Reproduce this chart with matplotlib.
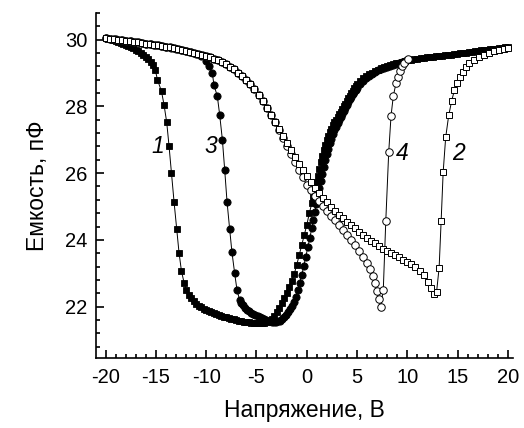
import matplotlib
matplotlib.use("Agg")
import matplotlib.pyplot as plt
from matplotlib.ticker import MultipleLocator

plt.rcParams['font.family'] = ['Liberation Sans', 'DejaVu Sans']
plt.rcParams['axes.unicode_minus'] = False

# curve 1 - filled squares
x1 = [-20, -19.75, -19.5, -19.25, -19, -18.75, -18.5, -18.25, -18, -17.75, -17.5, -17.25,
      -17, -16.75, -16.5, -16.25, -16, -15.75, -15.5, -15.25, -15.05,
      -14.84, -14.44, -14.19, -13.92, -13.69, -13.45, -13.19, -12.93, -12.7, -12.46,
      -12.2, -11.96, -11.75, -11.5, -11.25, -11.0, -10.75, -10.5, -10.25, -10, -9.75,
      -9.5, -9.25, -9, -8.75, -8.5, -8.25, -8, -7.75, -7.5, -7.25, -7, -6.75, -6.5,
      -6.25, -6, -5.75, -5.5, -5.25, -5, -4.75, -4.5, -4.25, -4, -3.75, -3.5, -3.25,
      -3, -2.75, -2.5, -2.25, -2, -1.75, -1.5, -1.25, -1.0, -0.75, -0.5, -0.25, 0,
      0.25, 0.5, 0.65, 0.8, 0.95, 1.1, 1.25, 1.4, 1.55, 1.7, 1.85, 2.0, 2.15, 2.3,
      2.45, 2.6, 2.75, 2.9, 3.05, 3.2, 3.35, 3.5, 3.65, 3.8, 3.95, 4.1, 4.25, 4.4,
      4.55, 4.7, 4.85, 5.0, 5.3, 5.6, 5.9, 6.2, 6.5, 6.8, 7.1, 7.4, 7.7, 8.0, 8.3,
      8.6, 8.9, 9.2, 9.5, 9.8, 10.1, 10.4, 10.7, 11.0, 11.3, 11.6, 11.9, 12.2, 12.5,
      12.8, 13.1, 13.4, 13.7, 14.0, 14.3, 14.6, 14.9, 15.2, 15.5, 15.8, 16.1, 16.4,
      16.7, 17.0, 17.3, 17.6, 17.9, 18.2, 18.5, 18.8, 19.1, 19.4, 19.7, 20.0]
y1 = [30.05, 30.03, 30.01, 29.99, 29.97, 29.94, 29.91, 29.88, 29.85, 29.82, 29.78, 29.74,
      29.7, 29.65, 29.6, 29.55, 29.49, 29.42, 29.34, 29.23, 29.08,
      28.8, 28.45, 28.05, 27.52, 26.81, 26.0, 25.13, 24.33, 23.62, 23.07,
      22.72, 22.5, 22.36, 22.25, 22.16, 22.09, 22.03, 21.98, 21.94, 21.9, 21.87,
      21.84, 21.81, 21.78, 21.75, 21.73, 21.7, 21.68, 21.66, 21.64, 21.62, 21.6, 21.58, 21.57,
      21.55, 21.54, 21.53, 21.52, 21.51, 21.5, 21.5, 21.5, 21.51, 21.53, 21.57, 21.63, 21.72,
      21.83, 21.96, 22.1, 22.26, 22.42, 22.58, 22.76, 22.98, 23.25, 23.55, 23.85, 24.15, 24.45,
      24.8, 25.1, 25.3, 25.5, 25.72, 25.92, 26.12, 26.32, 26.5, 26.68, 26.84, 26.98, 27.1, 27.22,
      27.33, 27.43, 27.52, 27.6, 27.68, 27.76, 27.84, 27.92, 28.0, 28.08, 28.16, 28.24, 28.32, 28.4,
      28.47, 28.54, 28.6, 28.66, 28.76, 28.84, 28.91, 28.96, 29.01, 29.06, 29.1, 29.14, 29.17, 29.2, 29.23,
      29.26, 29.29, 29.31, 29.34, 29.36, 29.38, 29.4, 29.42, 29.43, 29.45, 29.46, 29.47, 29.48, 29.49,
      29.5, 29.51, 29.52, 29.53, 29.54, 29.55, 29.56, 29.58, 29.59, 29.6, 29.61, 29.63, 29.64,
      29.65, 29.66, 29.68, 29.69, 29.7, 29.71, 29.72, 29.73, 29.74, 29.75, 29.77, 29.78]

# curve 3 - filled circles
x3 = [-20, -19.5, -19, -18.5, -18, -17.5, -17, -16.5, -16, -15.5, -15, -14.5, -14,
      -13.5, -13, -12.5, -12, -11.5, -11, -10.5, -10.05, -9.72, -9.39, -9.23, -8.89,
      -8.66, -8.39, -8.16, -7.93, -7.67, -7.44, -7.17, -6.94, -6.68, -6.5, -6.3, -6.1,
      -5.9, -5.7, -5.5, -5.3, -5.1, -4.9, -4.7, -4.5, -4.3, -4.1, -3.9, -3.7, -3.5,
      -3.3, -3.1, -2.9, -2.7, -2.5, -2.3, -2.1, -1.9, -1.7, -1.5, -1.3, -1.1, -0.9,
      -0.7, -0.5, -0.3, -0.1, 0.1, 0.3, 0.5, 0.65, 0.8, 0.95, 1.1, 1.25, 1.4, 1.55,
      1.7, 1.85, 2.0, 2.15, 2.3, 2.45, 2.6, 2.75, 2.9, 3.05, 3.2, 3.35, 3.5, 3.65,
      3.8, 3.95, 4.1, 4.25, 4.4, 4.55, 4.7, 4.85, 5.0, 5.3, 5.6, 5.9, 6.2, 6.5, 6.8,
      7.1, 7.4, 7.7, 8.0, 8.3, 8.6, 8.9, 9.2, 9.5, 9.8, 10.0]
y3 = [30.05, 30.03, 30.01, 29.99, 29.97, 29.95, 29.93, 29.91, 29.88, 29.86, 29.84, 29.81, 29.79,
      29.76, 29.73, 29.7, 29.67, 29.63, 29.58, 29.5, 29.35, 29.2, 29.0, 28.65, 28.3,
      27.75, 27.0, 26.1, 25.15, 24.33, 23.63, 23.0, 22.5, 22.2, 22.12, 22.04, 21.97,
      21.91, 21.86, 21.82, 21.78, 21.74, 21.71, 21.68, 21.65, 21.62, 21.6, 21.58, 21.56, 21.55,
      21.55, 21.55, 21.56, 21.58, 21.62, 21.68, 21.75, 21.83, 21.92, 22.02, 22.15, 22.3, 22.5,
      22.72, 22.95, 23.22, 23.5, 23.78, 24.06, 24.36, 24.6, 24.84, 25.08, 25.32, 25.55, 25.77, 25.98,
      26.18, 26.38, 26.56, 26.73, 26.89, 27.03, 27.16, 27.28, 27.39, 27.49, 27.59, 27.69, 27.78, 27.87,
      27.96, 28.05, 28.13, 28.21, 28.29, 28.36, 28.43, 28.5, 28.56, 28.67, 28.77, 28.85, 28.92, 28.98, 29.03,
      29.08, 29.12, 29.16, 29.19, 29.22, 29.25, 29.28, 29.31, 29.34, 29.37, 29.39]

# curve 2 - open squares
x2 = [-20, -19.6, -19.2, -18.8, -18.4, -18, -17.6, -17.2, -16.8, -16.4, -16, -15.6,
      -15.2, -14.8, -14.4, -14, -13.6, -13.2, -12.8, -12.4, -12, -11.6, -11.2, -10.8,
      -10.4, -10, -9.6, -9.2, -8.8, -8.4, -8, -7.6, -7.2, -6.8, -6.4, -6, -5.6, -5.2,
      -4.8, -4.4, -4, -3.6, -3.2, -2.8, -2.4, -2, -1.6, -1.2, -0.8, -0.4, 0, 0.4, 0.8,
      1.2, 1.6, 2, 2.4, 2.8, 3.2, 3.6, 4, 4.4, 4.8, 5.2, 5.6, 6, 6.4, 6.8, 7.2, 7.6,
      8, 8.4, 8.8, 9.2, 9.6, 10, 10.4, 10.8, 11.2, 11.6, 12, 12.3, 12.6,
      12.9, 13.15, 13.35, 13.55, 13.8, 14.1, 14.4, 14.66, 14.95, 15.22, 15.5, 15.8,
      16.15, 16.6, 17.1, 17.6, 18.1, 18.6, 19.1, 19.6, 20.0]
y2 = [30.05, 30.03, 30.02, 30.0, 29.99, 29.97, 29.95, 29.94, 29.92, 29.9, 29.88, 29.86,
      29.85, 29.83, 29.81, 29.79, 29.77, 29.74, 29.72, 29.69, 29.67, 29.64, 29.61, 29.58,
      29.55, 29.52, 29.48, 29.43, 29.38, 29.32, 29.26, 29.19, 29.11, 29.01, 28.91, 28.8, 28.66, 28.51,
      28.34, 28.15, 27.95, 27.75, 27.54, 27.33, 27.12, 26.9, 26.68, 26.47, 26.27, 26.08, 25.9, 25.72, 25.56,
      25.41, 25.27, 25.13, 25.0, 24.88, 24.76, 24.65, 24.55, 24.45, 24.35, 24.25, 24.16, 24.07, 23.98, 23.9, 23.82, 23.74,
      23.67, 23.6, 23.54, 23.48, 23.41, 23.35, 23.27, 23.18, 23.08, 22.94, 22.75, 22.55, 22.38,
      22.45, 23.17, 24.57, 26.03, 27.07, 27.73, 28.17, 28.48, 28.7, 28.87, 29.02, 29.17,
      29.3, 29.4, 29.48, 29.55, 29.6, 29.65, 29.69, 29.73, 29.76]

# curve 4 - open circles
x4 = [-20, -19.6, -19.2, -18.8, -18.4, -18, -17.6, -17.2, -16.8, -16.4, -16, -15.6,
      -15.2, -14.8, -14.4, -14, -13.6, -13.2, -12.8, -12.4, -12, -11.6, -11.2, -10.8,
      -10.4, -10, -9.6, -9.2, -8.8, -8.4, -8, -7.6, -7.2, -6.8, -6.4, -6, -5.6, -5.2,
      -4.8, -4.4, -4, -3.6, -3.2, -2.8, -2.4, -2.0, -1.6, -1.2, -0.8, -0.4, 0, 0.4,
      0.8, 1.2, 1.6, 2.0, 2.4, 2.8, 3.2, 3.6, 4.0, 4.4, 4.8, 5.2, 5.6, 6.0, 6.3, 6.55,
      6.75, 6.95, 7.15, 7.35, 7.6, 7.85, 8.14, 8.37, 8.6, 8.87, 9.03, 9.27, 9.46, 9.69, 10.02]
y4 = [30.05, 30.03, 30.02, 30.0, 29.99, 29.97, 29.95, 29.94, 29.92, 29.9, 29.88, 29.86,
      29.85, 29.83, 29.81, 29.79, 29.77, 29.74, 29.72, 29.69, 29.67, 29.64, 29.61, 29.58,
      29.55, 29.52, 29.48, 29.43, 29.38, 29.32, 29.26, 29.19, 29.11, 29.01, 28.91, 28.8, 28.66, 28.51,
      28.34, 28.15, 27.95, 27.75, 27.54, 27.3, 27.06, 26.82, 26.58, 26.34, 26.1, 25.87, 25.65, 25.48,
      25.32, 25.17, 25.02, 24.88, 24.73, 24.59, 24.45, 24.31, 24.16, 24.0, 23.84, 23.67, 23.49, 23.3, 23.12, 22.92,
      22.72, 22.48, 22.22, 22.0, 22.5, 24.58, 26.63, 27.72, 28.32, 28.7, 28.88, 29.05, 29.2, 29.3, 29.42]

labels = ['1', '2', '3', '4']
label_pos = [(-14.84, 26.8), (15.1, 26.6), (-9.5, 26.8), (9.5, 26.6)]

fig = plt.figure(figsize=(5.24, 4.28), dpi=100)
ax = fig.add_axes([0.183, 0.1636, 0.796, 0.806])

lw = 0.7
ax.plot(x1, y1, '-', color='black', lw=lw, marker='s', ms=4.6, mfc='black', mec='black', mew=0.6)
ax.plot(x3, y3, '-', color='black', lw=lw, marker='o', ms=5.2, mfc='black', mec='black', mew=0.6)
ax.plot(x4, y4, '-', color='black', lw=lw, marker='o', ms=5.4, mfc='white', mec='black', mew=0.7)
ax.plot(x2, y2, '-', color='black', lw=lw, marker='s', ms=5.0, mfc='white', mec='black', mew=0.7)

for lab, (lx, ly) in zip(labels, label_pos):
    ax.text(lx, ly, lab, fontsize=16.5, style='italic', ha='center', va='center')

ax.set_xlim(-20.96, 20.49)
ax.set_ylim(20.46, 30.8)
ax.xaxis.set_major_locator(MultipleLocator(5))
ax.xaxis.set_minor_locator(MultipleLocator(1))
ax.yaxis.set_major_locator(MultipleLocator(2))
ax.yaxis.set_minor_locator(MultipleLocator(0.4))
ax.tick_params(which='both', direction='in', labelsize=14.5, width=1.2)
ax.tick_params(which='major', length=6)
ax.tick_params(which='minor', length=3)
ax.tick_params(axis='x', pad=7)
ax.tick_params(axis='y', pad=6)
ax.spines['top'].set_visible(False)
ax.spines['right'].set_visible(False)
ax.spines['left'].set_linewidth(1.2)
ax.spines['bottom'].set_linewidth(1.2)

ax.set_xlabel('Напряжение, В', fontsize=16.5, labelpad=9)
ax.set_ylabel('Емкость, пФ', fontsize=16.5, labelpad=12)

fig.savefig('out.png', dpi=100)
